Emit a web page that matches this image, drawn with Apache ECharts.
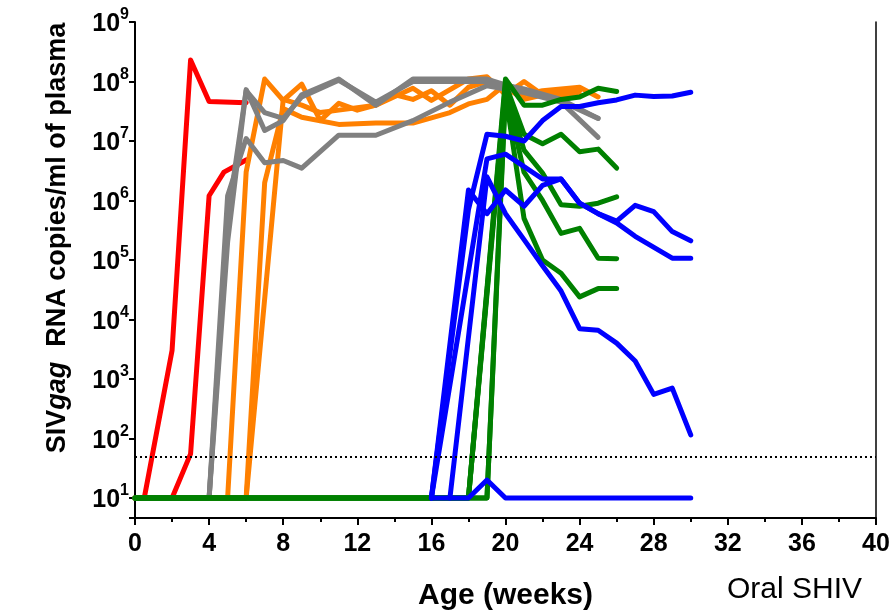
<!DOCTYPE html>
<html>
<head>
<meta charset="utf-8">
<script src="https://cdn.jsdelivr.net/npm/echarts@6/dist/echarts.min.js"></script>
<style>
  html, body { margin: 0; padding: 0; background: #fff; }
  #chart { width: 892px; height: 614px; }
</style>
</head>
<body>
<div id="chart"></div>
<script>
// [age in weeks, SIVgag RNA copies/ml]; undetectable plotted at 10
const red1 = [[0, 10], [0.5, 10], [2, 3000], [3, 2.3e8], [4, 4.6e7], [6, 4.4e7]]
const red2 = [[0, 10], [2, 10], [3, 55], [4, 1.2e6], [4.8, 3e6], [6, 4.8e6]]

const orange1 = [[0, 10], [5, 10], [6, 3e6], [7, 1.1e8], [8, 4.8e7], [9, 9e7], [10, 2.2e7], [11, 4.3e7], [12, 3.3e7], [13, 4e7], [15, 7.7e7], [16, 4.8e7], [18, 1.1e8], [19, 1.2e8], [20, 6e7], [21, 1e8], [22, 6e7], [23, 6e7], [24, 6e7]]
const orange2 = [[0, 10], [6, 10], [7, 2e6], [8, 3.5e7], [9, 2.5e7], [11, 1.9e7], [13, 2e7], [15, 2e7], [17, 3e7], [18, 4.2e7], [19, 5e7], [20, 9e7], [21, 6e7], [22, 7e7], [24, 8e7], [25, 5.5e7]]
const orange3 = [[0, 10], [6, 10], [8, 5e7], [9, 4e7], [10, 3e7], [11, 3.3e7], [13, 4e7], [14, 6e7], [15, 5e7], [16, 7e7], [17, 4e7], [18, 8e7], [19, 1e8], [20, 8e7], [21, 5e7], [23, 7e7], [24, 7e7]]

const gray1 = [[0, 10], [4, 10], [5, 2e5], [6, 7.3e7], [7, 1.5e7], [8, 2.2e7], [9, 6e7], [11, 1.1e8], [13, 4e7], [15, 1.1e8], [19, 1.1e8], [21, 7e7], [23, 4.6e7], [25, 2.4e7]]
const gray2 = [[0, 10], [4, 10], [5, 5e5], [6, 7e7], [7, 3e7], [8, 2.4e7], [9, 5.5e7], [11, 1.05e8], [13, 4.5e7], [15, 1e8], [19, 1e8], [21, 7.5e7], [23, 5e7], [25, 2.4e7]]
const gray3 = [[0, 10], [4, 10], [5, 1.2e6], [6, 1.1e7], [7, 4.3e6], [8, 4.7e6], [9, 3.5e6], [11, 1.25e7], [13, 1.25e7], [15, 2.2e7], [17, 4.5e7], [19, 8.5e7], [21, 6.5e7], [23, 4.5e7], [25, 1.15e7]]

const green1 = [[0, 10], [18, 10], [20, 1.1e8], [21, 4e7], [22, 4e7], [23, 5e7], [24, 5.5e7], [25, 7.7e7], [26, 6.8e7]]
const green2 = [[0, 10], [18, 10], [20, 9e7], [21, 1.3e7], [22, 9e6], [23, 1.3e7], [24, 6.6e6], [25, 7.3e6], [26, 3.5e6]]
const green3 = [[0, 10], [19, 10], [20, 8e7], [21, 7e6], [22, 2.9e6], [23, 8.5e5], [24, 8e5], [25, 9e5], [26, 1.15e6]]
const green4 = [[0, 10], [18, 10], [20, 7e7], [21, 3e6], [22, 1e6], [23, 2.8e5], [24, 3.4e5], [25, 1.07e5], [26, 1.05e5]]
const green5 = [[0, 10], [19, 10], [20, 6e7], [21, 5e5], [22, 1e5], [23, 6e4], [24, 2.4e4], [25, 3.3e4], [26, 3.3e4]]

const blue1 = [[16, 10], [18, 7e5], [19, 1.3e7], [20, 1.2e7], [21, 1e7], [22, 2.2e7], [23, 3.8e7], [24, 3.8e7], [25, 4.4e7], [26, 4.9e7], [27, 5.9e7], [28, 5.6e7], [29, 5.7e7], [30, 6.6e7]]
const blue2 = [[16, 10], [19, 5e6], [20, 6e6], [22, 2.3e6], [23, 2.3e6], [24, 9e5], [25, 6e5], [26, 4.5e5], [27, 8.3e5], [28, 6.5e5], [29, 3e5], [30, 2.1e5]]
const blue3 = [[16, 10], [18, 1.5e6], [19, 6e5], [20, 1.5e6], [21, 8e5], [22, 1.8e6], [23, 2.3e6], [24, 9e5], [25, 6e5], [26, 4.2e5], [27, 2.5e5], [29, 1.07e5], [30, 1.07e5]]
const blue4 = [[17, 10], [19, 2.5e6], [20, 6e5], [21, 2.2e5], [22, 8e4], [23, 3e4], [24, 7e3], [25, 6.6e3], [26, 4e3], [27, 2e3], [28, 550], [29, 700], [30, 115]]
const blue5 = [[16, 10], [18, 10], [19, 20], [20, 10], [30, 10]]

const detectionLimit = 50
const xTicks = [0, 40, 4]  // min, max, step

const groups = [
  { color: '#ff0000', lines: [red1, red2] },
  { color: '#ff8000', lines: [orange1, orange2, orange3] },
  { color: '#808080', lines: [gray1, gray2, gray3] },
  { color: '#008000', lines: [green1, green2, green3, green4, green5] },
  { color: '#0000ff', lines: [blue1, blue2, blue3, blue4, blue5] }
]

const series = []
groups.forEach(g => {
  g.lines.forEach(d => {
    series.push({
      type: 'line',
      data: d,
      symbol: 'none',
      lineStyle: { color: g.color, width: 5, cap: 'round', join: 'round' }
    })
  })
})
// dotted limit of detection
series[0].markLine = {
  silent: true,
  symbol: ['none', 'none'],
  label: { show: false },
  lineStyle: { color: '#000', width: 2, type: [2, 3] },
  data: [{ yAxis: detectionLimit }]
}

const boldFont = '"Liberation Sans", Arial, sans-serif'

const chart = echarts.init(document.getElementById('chart'))
chart.setOption({
  animation: false,
  backgroundColor: '#fff',
  grid: { left: 135, right: 16, top: 22, bottom: 96, containLabel: false, outerBoundsMode: 'none' },
  xAxis: {
    type: 'value',
    min: xTicks[0],
    max: xTicks[1],
    interval: xTicks[2],
    name: 'Age (weeks)',
    nameLocation: 'middle',
    nameGap: 63,
    nameTextStyle: { fontFamily: boldFont, fontWeight: 'bold', fontSize: 30, color: '#000' },
    axisLine: { lineStyle: { color: '#000', width: 2 } },
    axisTick: { length: 7, lineStyle: { color: '#000', width: 2 } },
    minorTick: { show: true, splitNumber: 2, length: 4, lineStyle: { color: '#000', width: 2 } },
    axisLabel: { fontFamily: boldFont, fontWeight: 'bold', fontSize: 25, color: '#000', margin: 14 },
    splitLine: { show: false }
  },
  yAxis: [{
    type: 'log',
    logBase: 10,
    min: 4.6,
    max: 1e9,
    splitNumber: 8,
    name: 'SIV{i|gag}  RNA copies/ml of plasma',
    nameLocation: 'middle',
    nameGap: 64,
    nameRotate: 90,
    nameTextStyle: {
      fontFamily: boldFont, fontWeight: 'bold', fontSize: 27, color: '#000',
      padding: [0, 0, 0, 64],
      rich: { i: { fontFamily: boldFont, fontWeight: 'bold', fontStyle: 'italic', fontSize: 27, color: '#000' } }
    },
    axisLine: { show: true, lineStyle: { color: '#000', width: 2 } },
    axisTick: { length: 6, lineStyle: { color: '#000', width: 2 } },
    axisLabel: {
      margin: 6,
      formatter: v => {
        const e = Math.log10(v)
        if (Math.abs(e - Math.round(e)) > 0.01) return ''
        return '{b|10}{s|' + Math.round(e) + '}'
      },
      rich: {
        b: { fontFamily: boldFont, fontWeight: 'bold', fontSize: 25, color: '#000', lineHeight: 30, verticalAlign: 'bottom' },
        s: { fontFamily: boldFont, fontWeight: 'bold', fontSize: 16, color: '#000', lineHeight: 30, verticalAlign: 'top' }
      }
    },
    splitLine: { show: false }
  }, {
    type: 'value',
    position: 'right',
    axisLine: { show: true, onZero: false, lineStyle: { color: '#000', width: 1.5 } },
    axisTick: { show: false },
    axisLabel: { show: false },
    splitLine: { show: false }
  }],
  title: {
    text: 'Oral SHIV',
    left: 722,
    top: 570,
    textStyle: { fontFamily: boldFont, fontWeight: 'normal', fontSize: 30, color: '#000' }
  },
  series: series
})
</script>
</body>
</html>
